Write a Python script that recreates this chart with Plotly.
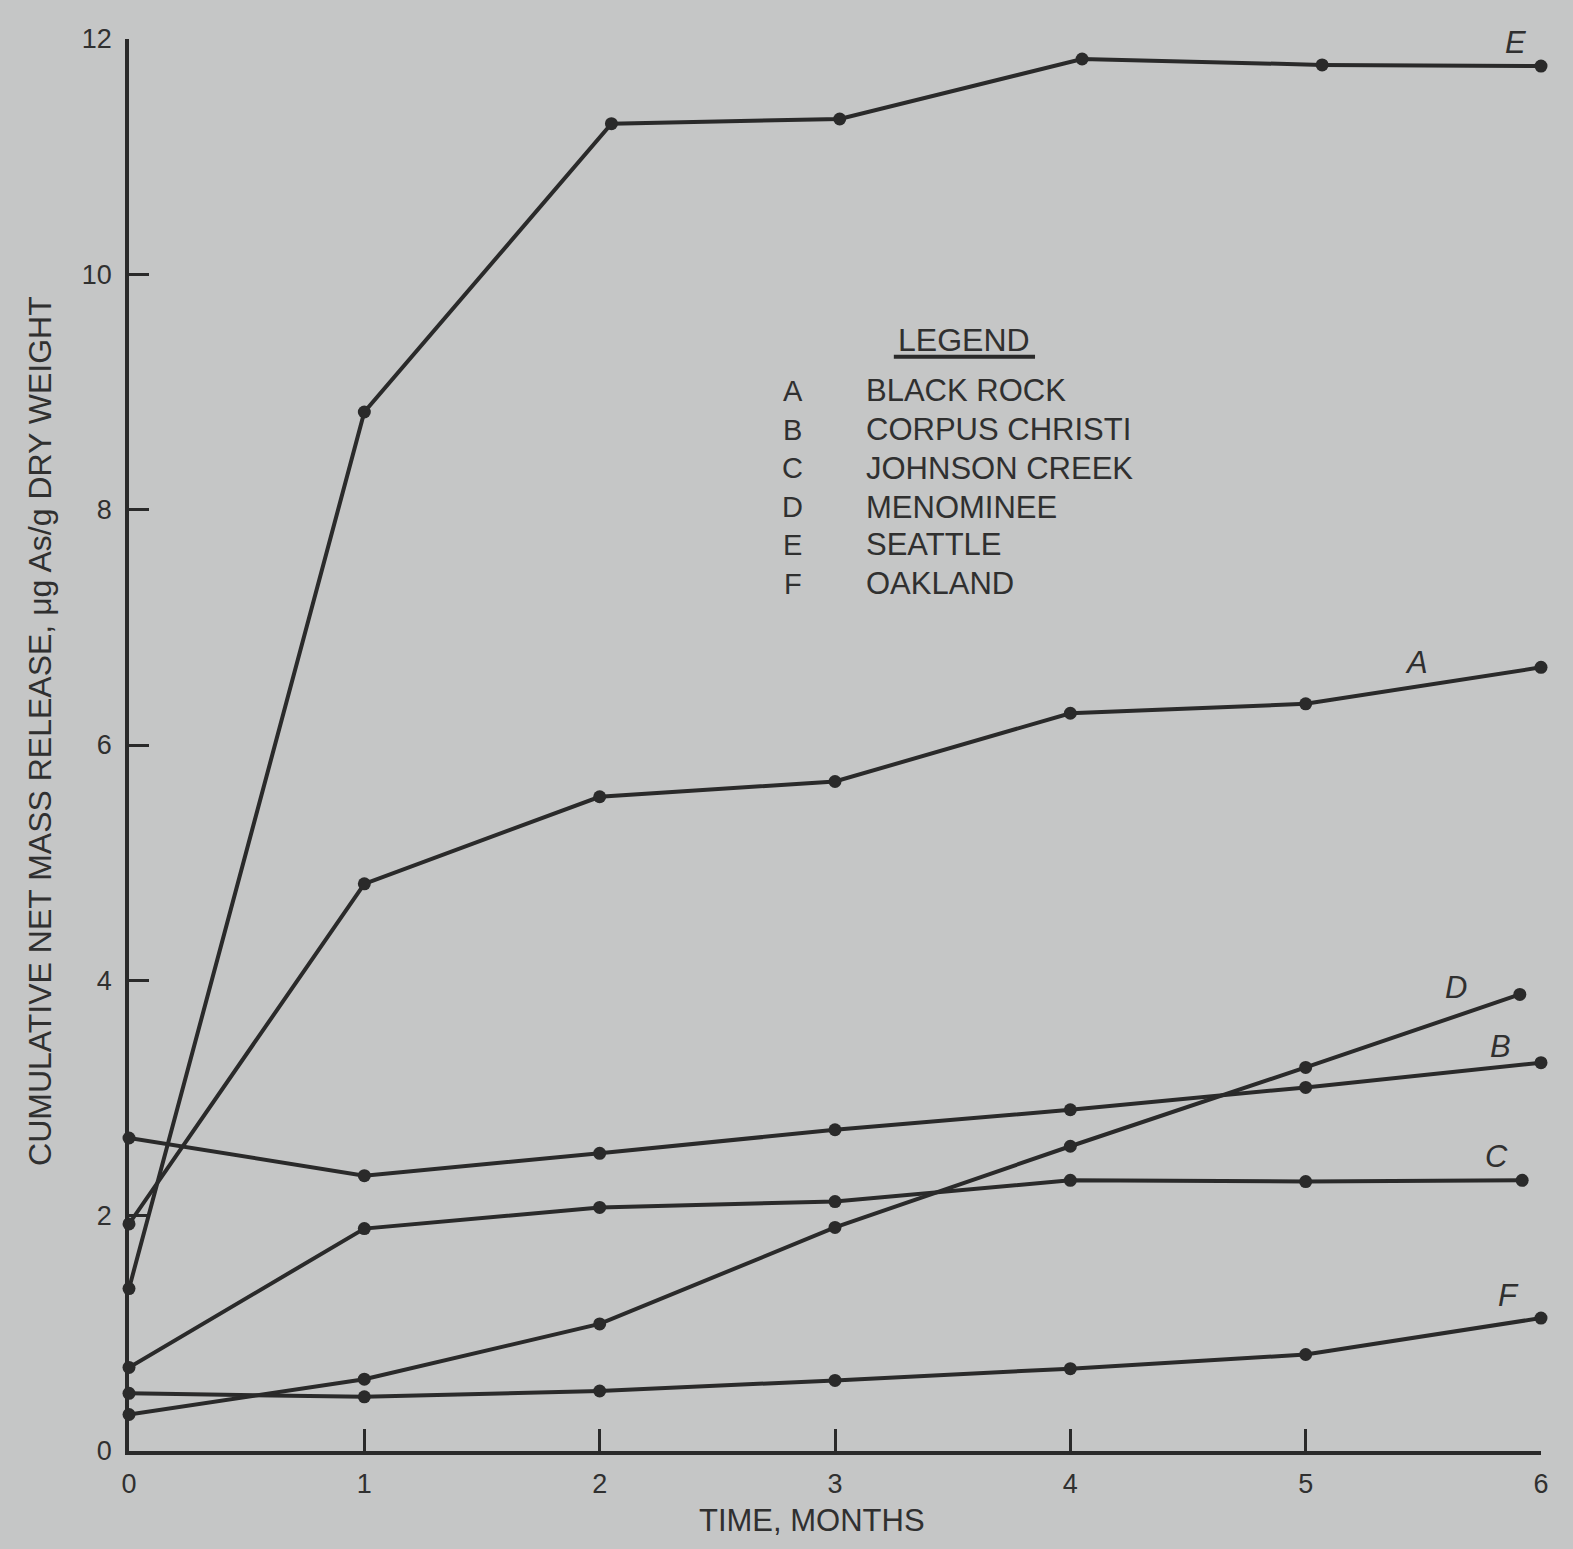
import plotly.graph_objects as go

# ---- data ----
series_codes = ["A", "B", "C", "D", "E", "F"]
series_names = ["BLACK ROCK", "CORPUS CHRISTI", "JOHNSON CREEK", "MENOMINEE", "SEATTLE", "OAKLAND"]

A_x = [0, 1, 2, 3, 4, 5, 6]
A_y = [1.93, 4.82, 5.56, 5.69, 6.27, 6.35, 6.66]
B_x = [0, 1, 2, 3, 4, 5, 6]
B_y = [2.66, 2.34, 2.53, 2.73, 2.90, 3.09, 3.30]
C_x = [0, 1, 2, 3, 4, 5, 5.92]
C_y = [0.71, 1.89, 2.07, 2.12, 2.30, 2.29, 2.30]
D_x = [0, 1, 2, 3, 4, 5, 5.91]
D_y = [0.31, 0.61, 1.08, 1.90, 2.59, 3.26, 3.88]
E_x = [0, 1, 2.05, 3.02, 4.05, 5.07, 6]
E_y = [1.38, 8.83, 11.28, 11.32, 11.83, 11.78, 11.77]
F_x = [0, 1, 2, 3, 4, 5, 6]
F_y = [0.49, 0.46, 0.51, 0.60, 0.70, 0.82, 1.13]

# curve-end letter labels (A..F)
label_x = [5.47, 5.83, 5.81, 5.64, 5.89, 5.86]
label_y = [6.70, 3.44, 2.50, 3.94, 11.97, 1.32]

x_ticks = [0, 1, 2, 3, 4, 5, 6]
y_ticks = [0, 2, 4, 6, 8, 10, 12]

# legend block placement (data units)
legend_title_pos = (3.55, 9.44)
legend_code_x = 2.82
legend_name_x = 3.125
legend_row_y = [9.01, 8.68, 8.35, 8.02, 7.70, 7.37]

# ---- styling ----
BG = "#c5c6c6"
INK = "#2a2a2a"
TXT = "#303030"
FONT = "Liberation Sans, Arial, sans-serif"

fig = go.Figure()
xs = [A_x, B_x, C_x, D_x, E_x, F_x]
ys = [A_y, B_y, C_y, D_y, E_y, F_y]
for code, name, x, y in zip(series_codes, series_names, xs, ys):
    fig.add_trace(go.Scatter(
        x=x, y=y, mode="lines+markers", name=name,
        line=dict(color=INK, width=4),
        marker=dict(color=INK, size=13),
        cliponaxis=False, showlegend=False,
    ))

annotations = []
for code, lx, ly in zip(series_codes, label_x, label_y):
    annotations.append(dict(
        x=lx, y=ly, xref="x", yref="y", text=f"<i>{code}</i>",
        showarrow=False, font=dict(family=FONT, size=31, color=TXT),
        xanchor="center", yanchor="middle",
    ))

annotations.append(dict(
    x=legend_title_pos[0], y=legend_title_pos[1], xref="x", yref="y",
    text="LEGEND", showarrow=False, font=dict(family=FONT, size=32, color=TXT),
    xanchor="center", yanchor="middle",
))
for code, name, ry in zip(series_codes, series_names, legend_row_y):
    annotations.append(dict(
        x=legend_code_x, y=ry, xref="x", yref="y", text=code, showarrow=False,
        font=dict(family=FONT, size=29, color=TXT), xanchor="center", yanchor="middle",
    ))
    annotations.append(dict(
        x=legend_name_x, y=ry, xref="x", yref="y", text=name, showarrow=False,
        font=dict(family=FONT, size=31, color=TXT), xanchor="left", yanchor="middle",
    ))

# axis titles
annotations.append(dict(
    x=-0.063, y=0.51, xref="paper", yref="paper",
    text="CUMULATIVE NET MASS RELEASE, \u03bcg As/g DRY WEIGHT",
    textangle=-90, showarrow=False, font=dict(family=FONT, size=32, color=TXT),
    xanchor="center", yanchor="middle",
))
annotations.append(dict(
    x=0.484, y=-0.049, xref="paper", yref="paper", text="TIME, MONTHS",
    showarrow=False, font=dict(family=FONT, size=31, color=TXT),
    xanchor="center", yanchor="middle",
))

fig.update_layout(
    width=1573, height=1549,
    margin=dict(l=129, r=32, t=39, b=98),
    paper_bgcolor=BG, plot_bgcolor=BG,
    annotations=annotations,
    shapes=[dict(type="line", xref="x", yref="y", x0=3.25, x1=3.85, y0=9.30, y1=9.30,
                 line=dict(color=INK, width=4))],
)
fig.update_xaxes(
    range=[0, 6], tickvals=x_ticks, ticktext=[str(v) for v in x_ticks],
    showgrid=False, zeroline=False, showline=True, linecolor=INK, linewidth=3.5,
    ticks="inside", ticklen=22, tickwidth=3, tickcolor=INK,
    tickfont=dict(family=FONT, size=27, color=TXT), ticklabelstandoff=6,
)
fig.update_yaxes(
    range=[0, 12], tickvals=y_ticks, ticktext=[str(v) for v in y_ticks],
    showgrid=False, zeroline=False, showline=True, linecolor=INK, linewidth=3.5,
    ticks="inside", ticklen=20, tickwidth=3, tickcolor=INK,
    tickfont=dict(family=FONT, size=27, color=TXT), ticklabelstandoff=8,
)

fig.write_html(
    "out.html",
    config={"displayModeBar": False},
    post_script="document.body.style.margin='0';document.body.style.background='%s';" % BG,
)
